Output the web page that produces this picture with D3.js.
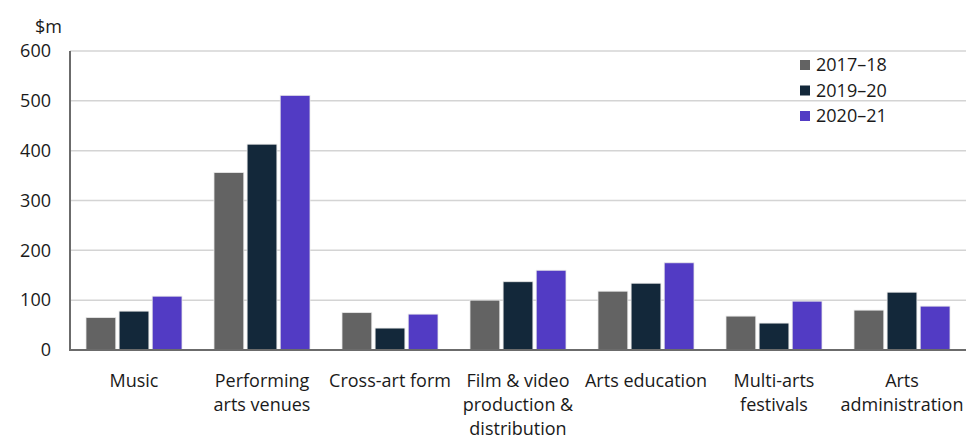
<!DOCTYPE html>
<html>
<head>
<meta charset="utf-8">
<script src="https://cdn.jsdelivr.net/npm/d3@7"></script>
<style>
  html, body { margin: 0; padding: 0; background: #fff; }
  svg { display: block; }
  text { font-family: "Open Sans", "Noto Sans", sans-serif; fill: #1a1a1a; }
</style>
</head>
<body>
<svg id="chart"></svg>
<script>
// categories and series (values in $m)
const categories = [
  ["Music"],
  ["Performing", "arts venues"],
  ["Cross-art form"],
  ["Film & video", "production &", "distribution"],
  ["Arts education"],
  ["Multi-arts", "festivals"],
  ["Arts", "administration"],
];
const seriesNames = ["2017–18", "2019–20", "2020–21"];
const values2017 = [65, 356, 75, 100, 118, 68, 80];
const values2019 = [78, 413, 44, 137, 134, 54, 116];
const values2020 = [108, 511, 72, 160, 175, 98, 88];
const yTicks = [0, 100, 200, 300, 400, 500, 600];
const colors = ["#636363", "#13283a", "#523bc4"];

const width = 966, height = 439;
const margin = { top: 51, right: 0, bottom: 89, left: 70 };
const fontSize = "18px";

const svg = d3.select("#chart").attr("width", width).attr("height", height);

const keys = categories.map((c) => c.join(" "));
const series = [values2017, values2019, values2020];

const x0 = d3.scaleBand()
  .domain(keys)
  .range([margin.left, width - margin.right])
  .paddingInner(0.25)
  .paddingOuter(0.125);

const x1 = d3.scaleBand()
  .domain(seriesNames)
  .range([0, x0.bandwidth()])
  .paddingInner(0.1);

const y = d3.scaleLinear()
  .domain([0, 600])
  .range([height - margin.bottom, margin.top]);

// gridlines
svg.append("g")
  .selectAll("line")
  .data(yTicks.filter((t) => t > 0))
  .join("line")
  .attr("x1", margin.left)
  .attr("x2", width - margin.right)
  .attr("y1", (d) => y(d))
  .attr("y2", (d) => y(d))
  .attr("stroke", "#d4d4d4")
  .attr("stroke-width", 1.5);

// bars
const groups = svg.append("g")
  .selectAll("g")
  .data(keys)
  .join("g")
  .attr("transform", (d) => `translate(${x0(d)},0)`);

groups.selectAll("rect")
  .data((d, i) => seriesNames.map((s, j) => ({ s, j, v: series[j][i] })))
  .join("rect")
  .attr("x", (d) => x1(d.s))
  .attr("width", x1.bandwidth())
  .attr("y", (d) => y(d.v))
  .attr("height", (d) => y(0) - y(d.v))
  .attr("fill", (d) => colors[d.j])
  .attr("stroke", "#e8e8e8")
  .attr("stroke-width", 0.8);

// axes lines
svg.append("line")
  .attr("x1", margin.left).attr("x2", margin.left)
  .attr("y1", y(600)).attr("y2", y(0))
  .attr("stroke", "#6b6b6b").attr("stroke-width", 2);
svg.append("line")
  .attr("x1", margin.left - 1).attr("x2", width)
  .attr("y1", y(0)).attr("y2", y(0))
  .attr("stroke", "#6b6b6b").attr("stroke-width", 2);

// y tick labels
svg.append("g")
  .selectAll("text")
  .data(yTicks)
  .join("text")
  .attr("x", 51)
  .attr("y", (d) => y(d))
  .attr("dy", "0.35em")
  .attr("text-anchor", "end")
  .style("font-size", fontSize)
  .text((d) => d);

svg.append("text")
  .attr("x", 35)
  .attr("y", 33)
  .style("font-size", fontSize)
  .text("$m");

// x category labels
const xl = svg.append("g")
  .selectAll("text")
  .data(categories)
  .join("text")
  .attr("x", (d) => x0(d.join(" ")) + x0.bandwidth() / 2)
  .attr("y", 387)
  .attr("text-anchor", "middle")
  .style("font-size", fontSize);

xl.selectAll("tspan")
  .data((d) => d.map((line) => ({ line, x: x0(d.join(" ")) + x0.bandwidth() / 2 })))
  .join("tspan")
  .attr("x", (d) => d.x)
  .attr("dy", (d, i) => (i === 0 ? 0 : 24))
  .text((d) => d.line);

// legend
const legend = svg.append("g")
  .selectAll("g")
  .data(seriesNames)
  .join("g")
  .attr("transform", (d, i) => `translate(800,${65 + i * 25.5})`);

legend.append("rect")
  .attr("x", 0).attr("y", -5)
  .attr("width", 10).attr("height", 10)
  .attr("fill", (d, i) => colors[i]);

legend.append("text")
  .attr("x", 16)
  .attr("dy", "0.35em")
  .style("font-size", fontSize)
  .text((d) => d);
</script>
</body>
</html>
